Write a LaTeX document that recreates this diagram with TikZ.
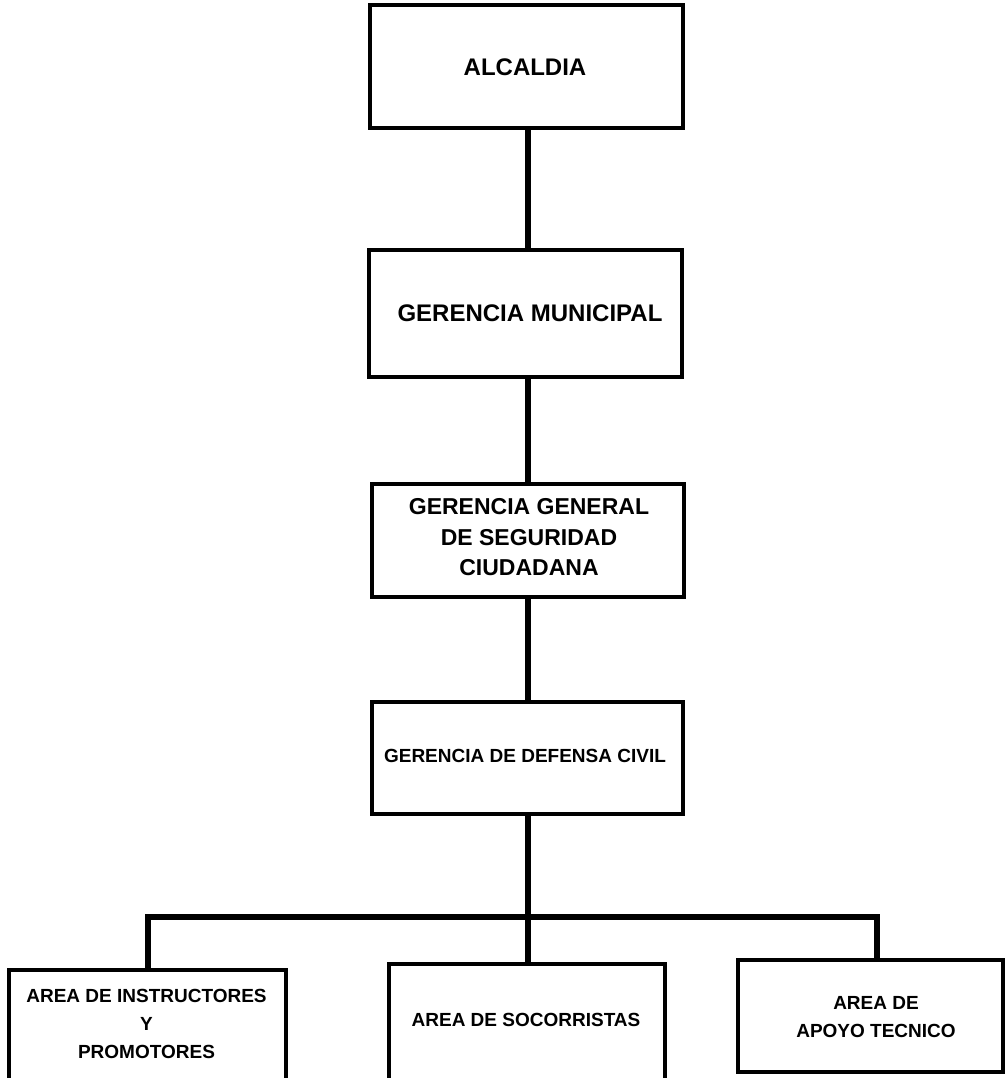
\documentclass[tikz,border=0pt]{standalone}
\usepackage{fontspec}
\setmainfont{Liberation Sans}
\begin{document}
\begin{tikzpicture}[x=1pt,y=-1pt,
  box/.style={draw=black, line width=3.5pt, rectangle, inner sep=0pt, fill=white},
  conn/.style={draw=black, line width=6pt, line join=miter},
  txt/.style={inner sep=0pt, align=center, font=\bfseries},
  big/.style={txt, font=\bfseries\fontsize{24}{30}\selectfont},
  mid/.style={txt, font=\bfseries\fontsize{23}{30.5}\selectfont},
  small/.style={txt, font=\bfseries\fontsize{19}{28}\selectfont}
]
\useasboundingbox (0,0) rectangle (1005,1078);
\clip (0,0) rectangle (1005,1078);
\fill[white] (0,0) rectangle (1005,1078);

\coordinate (spine) at (528,0);
\coordinate (barL) at (148,917);
\coordinate (barM) at (528,917);
\coordinate (barR) at (877,917);

% connectors (drawn first, boxes on top)
\node[box, minimum width=313pt, minimum height=123pt] (alc) at (526.5,66.5) {};
\node[box, minimum width=313pt, minimum height=127pt] (gm) at (525.5,313.5) {};
\node[box, minimum width=312pt, minimum height=113pt] (ggsc) at (528,540.5) {};
\node[box, minimum width=311pt, minimum height=112pt] (gdc) at (527.5,758) {};
\node[box, minimum width=277pt, minimum height=130pt] (ai) at (147.5,1035) {};
\node[box, minimum width=276pt, minimum height=136pt] (as) at (527,1032) {};
\node[box, minimum width=265pt, minimum height=112pt] (aa) at (870.5,1016) {};

\draw[conn] (alc.south -| spine) -- (gm.north -| spine);
\draw[conn] (gm.south -| spine) -- (ggsc.north -| spine);
\draw[conn] (ggsc.south -| spine) -- (gdc.north -| spine);
\draw[conn] (gdc.south -| spine) -- (as.north -| spine);
\draw[conn] (ai.north -| barL) -- (barL) -- (barR) -- (aa.north -| barR);

\node[big] (alct) at (525,67) {ALCALDIA};
\node[big] (gmt) at (530,313) {GERENCIA MUNICIPAL};
\node[mid] (ggsct) at (529,537.5) {GERENCIA GENERAL\\DE SEGURIDAD\\CIUDADANA};
\node[small] (gdct) at (525,756) {GERENCIA DE DEFENSA CIVIL};
\node[small] (ait) at (146.5,1024) {AREA DE INSTRUCTORES\\Y\\PROMOTORES};
\node[small] (ast) at (526,1020) {AREA DE SOCORRISTAS};
\node[small] (aat) at (876,1017) {AREA DE\\APOYO TECNICO};
\end{tikzpicture}
\end{document}
